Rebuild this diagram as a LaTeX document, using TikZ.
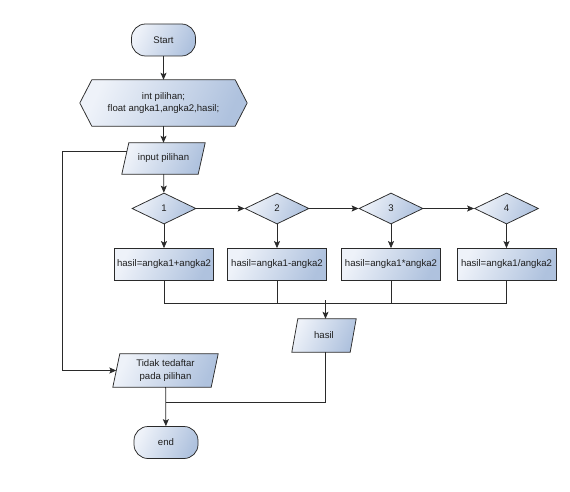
\documentclass[tikz,border=0pt]{standalone}
\usepackage{fontspec}
\setmainfont{Liberation Sans}
\usetikzlibrary{shapes.geometric,arrows.meta,calc,backgrounds}
\definecolor{cL}{HTML}{EEF2F9}
\definecolor{cR}{HTML}{AFC2DE}
\definecolor{lnc}{HTML}{2A2A2A}
\definecolor{txc}{HTML}{1E1E1E}
\newcommand\paraShape[2]{%
  \path[fillc] (#1.south west) -- ($(#1.north west)+(#2,0)$) -- (#1.north east) -- ($(#1.south east)+(-#2,0)$) -- cycle;}
\begin{document}
\begin{tikzpicture}[x=1pt,y=-1pt,
  font=\fontsize{9.6}{12.5}\selectfont, text=txc,
  fillc/.style={draw=lnc, line width=0.75pt, left color=cL, right color=cR, shading angle=65},
  term/.style={fillc, rectangle, rounded corners=14pt, minimum width=64pt, minimum height=32pt, inner sep=0pt},
  procbox/.style={fillc, rectangle, minimum width=99pt, minimum height=32pt, inner sep=0pt},
  dec/.style={fillc, diamond, minimum width=64pt, minimum height=31pt, inner sep=0pt},
  holder/.style={rectangle, inner sep=0pt, align=center},
  conn/.style={draw=lnc, line width=0.75pt},
  arr/.style={conn, -{Stealth[length=7pt,width=6pt,inset=1.5pt]}},
]
\useasboundingbox (0,0) rectangle (570,492);

% terminals
\node[term] (start) at (163.5,40) {Start};
\node[term] (end) at (166,442.5) {end};

% declaration hexagon
\node[holder, minimum width=167pt, minimum height=46pt] (decl) at (163.5,103) {int pilihan;\\float angka1,angka2,hasil;};

% parallelograms (holders)
\node[holder, minimum width=83pt, minimum height=31pt] (inp) at (163.5,158.5) {input pilihan};
\node[holder, minimum width=64pt, minimum height=33pt] (hasil) at (324,335.5) {hasil};
\node[holder, minimum width=105pt, minimum height=33pt] (tid) at (165.5,370.5) {Tidak tedaftar\\pada pilihan};

% decisions
\node[dec] (d1) at (164,208.5) {1};
\node[dec] (d2) at (277,208.5) {2};
\node[dec] (d3) at (391,208.5) {3};
\node[dec] (d4) at (506.5,208.5) {4};

% process boxes
\node[procbox] (b1) at (164,264.5) {hasil=angka1+angka2};
\node[procbox] (b2) at (277,264.5) {hasil=angka1-angka2};
\node[procbox] (b3) at (391,264.5) {hasil=angka1*angka2};
\node[procbox] (b4) at (506.5,264.5) {hasil=angka1/angka2};

\begin{scope}[on background layer]
  \path[fillc] (decl.west) -- ($(decl.north west)+(12,0)$) -- ($(decl.north east)+(-12,0)$)
     -- (decl.east) -- ($(decl.south east)+(-12,0)$) -- ($(decl.south west)+(12,0)$) -- cycle;
  \paraShape{inp}{7}
  \paraShape{hasil}{6}
  \paraShape{tid}{7}
\end{scope}

% helper coordinates
\coordinate (inpTL) at ($(inp.north west)+(7,0)$);
\coordinate (inpL) at ($(inpTL)!0.26!(inp.south west)$);
\coordinate (tidTL) at ($(tid.north west)+(7,0)$);
\coordinate (tidL) at ($(tidTL)!0.5!(tid.south west)$);
\coordinate (lft) at (62,0);
\coordinate (mj) at (325.5,303);
\coordinate (jn) at (166,402);

% main flow
\draw[arr] (start) -- (decl);
\draw[arr] (decl) -- (inp);
\draw[arr] (inp) -- (d1);
\draw[arr] (d1) -- (d2);
\draw[arr] (d2) -- (d3);
\draw[arr] (d3) -- (d4);
\draw[arr] (d1) -- (b1);
\draw[arr] (d2) -- (b2);
\draw[arr] (d3) -- (b3);
\draw[arr] (d4) -- (b4);

% merge
\draw[conn] (b1.south) |- (mj);
\draw[conn] (b2.south) |- (mj);
\draw[conn] (b3.south) |- (mj);
\draw[conn] (b4.south) |- (mj);
\draw[arr] ($(mj)+(0,-3)$) -- (mj |- hasil.north);

% to end
\draw[conn] (mj |- hasil.south) |- (jn);
\draw[arr] (tid) -- (end);

% not listed branch
\draw[arr] (inpL) -- (inpL -| lft) |- (tidL);
\end{tikzpicture}
\end{document}
